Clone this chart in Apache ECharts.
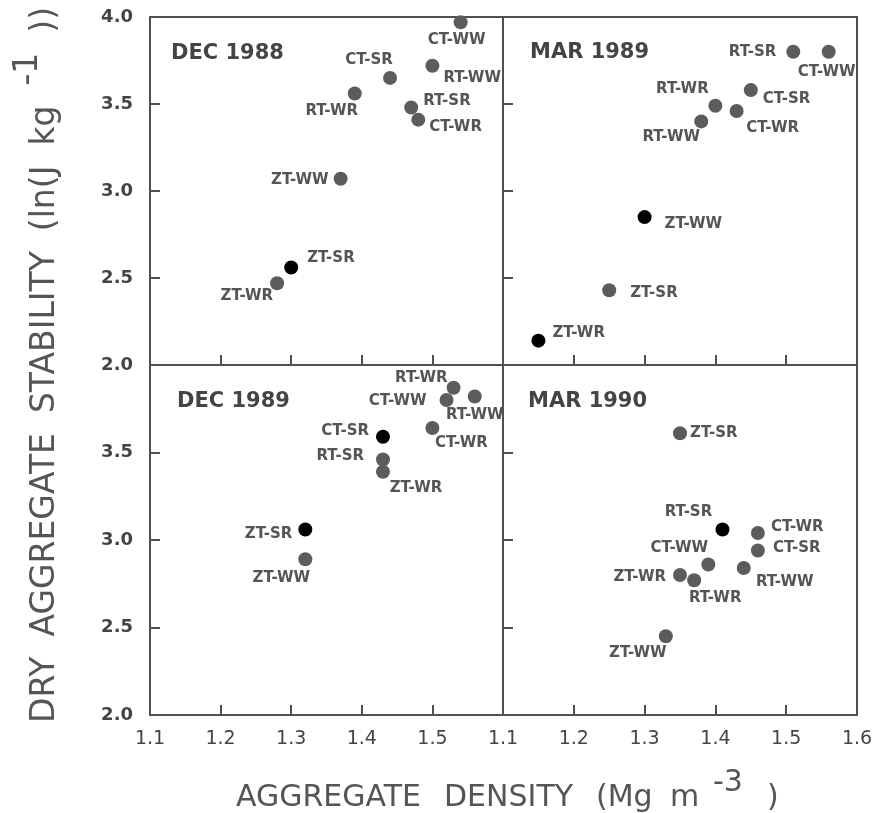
<!DOCTYPE html>
<html>
<head>
<meta charset="utf-8">
<script src="https://cdn.jsdelivr.net/npm/echarts@6/dist/echarts.min.js"></script>
<style>
html, body { margin: 0; padding: 0; background: #fff; }
#chart { width: 879px; height: 813px; }
</style>
</head>
<body>
<div id="chart"></div>
<script>
// ---- data ----
const panelTitles = ['DEC 1988', 'MAR 1989', 'DEC 1989', 'MAR 1990'];

const names1 = ['CT-WW', 'RT-WW', 'CT-SR', 'RT-WR', 'RT-SR', 'CT-WR', 'ZT-WW', 'ZT-SR', 'ZT-WR'];
const density1 = [1.54, 1.50, 1.44, 1.39, 1.47, 1.48, 1.37, 1.30, 1.28];
const stability1 = [3.97, 3.72, 3.65, 3.56, 3.48, 3.41, 3.07, 2.56, 2.47];
const filled1 = [0, 0, 0, 0, 0, 0, 0, 1, 0];

const names2 = ['RT-SR', 'CT-WW', 'CT-SR', 'RT-WR', 'CT-WR', 'RT-WW', 'ZT-WW', 'ZT-SR', 'ZT-WR'];
const density2 = [1.51, 1.56, 1.45, 1.40, 1.43, 1.38, 1.30, 1.25, 1.15];
const stability2 = [3.80, 3.80, 3.58, 3.49, 3.46, 3.40, 2.85, 2.43, 2.14];
const filled2 = [0, 0, 0, 0, 0, 0, 1, 0, 1];

const names3 = ['RT-WR', 'RT-WW', 'CT-WW', 'CT-WR', 'CT-SR', 'RT-SR', 'ZT-WR', 'ZT-SR', 'ZT-WW'];
const density3 = [1.53, 1.56, 1.52, 1.50, 1.43, 1.43, 1.43, 1.32, 1.32];
const stability3 = [3.87, 3.82, 3.80, 3.64, 3.59, 3.46, 3.39, 3.06, 2.89];
const filled3 = [0, 0, 0, 0, 1, 0, 0, 1, 0];

const names4 = ['ZT-SR', 'RT-SR', 'CT-WR', 'CT-SR', 'CT-WW', 'RT-WW', 'ZT-WR', 'RT-WR', 'ZT-WW'];
const density4 = [1.35, 1.41, 1.46, 1.46, 1.39, 1.44, 1.35, 1.37, 1.33];
const stability4 = [3.61, 3.06, 3.04, 2.94, 2.86, 2.84, 2.80, 2.77, 2.45];
const filled4 = [0, 1, 0, 0, 0, 0, 0, 0, 0];

const xTicks = [1.1, 1.2, 1.3, 1.4, 1.5, 1.6];
const yTicks = [2.0, 2.5, 3.0, 3.5, 4.0];

// ---- label placement (align, dx, dy from dot centre) ----
const place1 = [['c', -4, 18], ['l', 11, 12], ['c', -21, -18], ['c', -23, 18], ['l', 12, -6],
  ['l', 11, 7], ['r', -12, 1], ['l', 16, -9], ['r', -4, 13]];
const place2 = [['r', -17, 0], ['c', -2, 20], ['l', 12, 9], ['c', -33, -17], ['c', 36, 17],
  ['c', -30, 16], ['l', 20, 7], ['l', 21, 3], ['l', 14, -8]];
const place3 = [['r', -6, -10], ['c', 0, 19], ['r', -20, 1], ['c', 29, 15], ['r', -14, -6],
  ['r', -19, -3], ['c', 33, 16], ['r', -13, 5], ['c', -24, 19]];
const place4 = [['l', 10, 0], ['c', -34, -17], ['l', 13, -6], ['l', 15, -2], ['c', -29, -16],
  ['c', 41, 14], ['r', -14, 2], ['c', 21, 18], ['c', -28, 17]];

const ink = '#505050';
const grey = '#5c5c5c';
const font = 'DejaVu Sans';

const panels = [
  { names: names1, x: density1, y: stability1, filled: filled1, place: place1,
    grid: { left: 150, top: 17, width: 353, height: 348 }, title: [171, 54] },
  { names: names2, x: density2, y: stability2, filled: filled2, place: place2,
    grid: { left: 503, top: 17, width: 354, height: 348 }, title: [530, 53] },
  { names: names3, x: density3, y: stability3, filled: filled3, place: place3,
    grid: { left: 150, top: 365, width: 353, height: 350 }, title: [177, 402] },
  { names: names4, x: density4, y: stability4, filled: filled4, place: place4,
    grid: { left: 503, top: 365, width: 354, height: 350 }, title: [528, 402] }
];

const alignMap = { l: 'left', c: 'center', r: 'right' };

const grids = panels.map(p => Object.assign({
  show: true, borderColor: ink, borderWidth: 2, backgroundColor: 'transparent'
}, p.grid));

const xAxes = panels.map((p, i) => ({
  gridIndex: i, type: 'value',
  min: xTicks[0], max: xTicks[xTicks.length - 1], interval: 0.1,
  axisLine: { show: false },
  splitLine: { show: false },
  axisTick: { inside: true, length: 10, lineStyle: { color: ink, width: 2 } },
  axisLabel: {
    show: i >= 2, margin: 15, showMinLabel: true, showMaxLabel: true,
    color: '#444', fontFamily: font, fontSize: 19,
    formatter: v => (i === 2 && v > 1.55) ? '' : v.toFixed(1)
  }
}));

const yAxes = panels.map((p, i) => ({
  gridIndex: i, type: 'value',
  min: yTicks[0], max: yTicks[yTicks.length - 1], interval: 0.5,
  axisLine: { show: false },
  splitLine: { show: false },
  axisTick: { inside: true, length: 10, lineStyle: { color: ink, width: 2 } },
  axisLabel: {
    show: i % 2 === 0, margin: 17, showMinLabel: true, showMaxLabel: true,
    color: '#444', fontFamily: font, fontSize: 18, fontWeight: 'bold',
    formatter: v => (i === 2 && v > 3.9) ? '' : v.toFixed(1)
  }
}));

const series = panels.map((p, i) => ({
  type: 'scatter', xAxisIndex: i, yAxisIndex: i,
  symbolSize: 14, clip: false,
  data: p.names.map((n, k) => ({
    name: n,
    value: [p.x[k], p.y[k]],
    itemStyle: { color: p.filled[k] ? '#000' : grey, opacity: 1 },
    label: {
      show: true, formatter: '{b}', position: 'inside',
      align: alignMap[p.place[k][0]], verticalAlign: 'middle',
      offset: [p.place[k][1], p.place[k][2]],
      color: '#555', fontFamily: font, fontWeight: 'bold', fontSize: 15
    }
  }))
}));

// measure text so each word of the y title can be laid out in turn
const ctx = document.createElement('canvas').getContext('2d');
function widthOf(s, size) {
  ctx.font = size + 'px "' + font + '"';
  return ctx.measureText(s).width;
}

function wordText(t, x, y, size) {
  return {
    type: 'text', x: x, y: y,
    style: { text: t, fontFamily: font, fontSize: size, fill: '#555',
      verticalAlign: 'middle', align: 'left' }
  };
}

// words: [text, raise]; gap: space between words
function titleWords(words, size, gap) {
  let pos = 0;
  return words.map(([t, raise]) => {
    const el = wordText(t, pos, -raise, size);
    pos += widthOf(t, size) + gap;
    return el;
  });
}

const graphic = panels.map((p, i) => ({
  type: 'text', x: p.title[0], y: p.title[1],
  style: { text: panelTitles[i], fontFamily: font, fontWeight: 'bold', fontSize: 21,
    fill: '#444', verticalAlign: 'middle', align: 'left' }
}));

// x title, word by word as spaced in the figure
graphic.push({
  type: 'group', x: 0, y: 798,
  children: [
    wordText('AGGREGATE', 236, 0, 30),
    wordText('DENSITY', 444, 0, 30),
    wordText('(Mg', 596, 0, 30),
    wordText('m', 670, 0, 30),
    wordText('-3', 713, -15, 30),
    wordText(')', 767, 0, 30)
  ]
});
graphic.push({
  type: 'group', x: 45, y: 723, rotation: Math.PI / 2,
  children: titleWords([['DRY', 0], ['AGGREGATE', 0], ['STABILITY', 0], ['(ln(J', 0], ['kg', 0],
    ['-1', 17], ['))', 0]], 33, 20)
});

const chart = echarts.init(document.getElementById('chart'), null, { renderer: 'canvas' });
chart.setOption({
  backgroundColor: '#fff',
  animation: false,
  grid: grids,
  xAxis: xAxes,
  yAxis: yAxes,
  series: series,
  graphic: graphic
});
</script>
</body>
</html>
